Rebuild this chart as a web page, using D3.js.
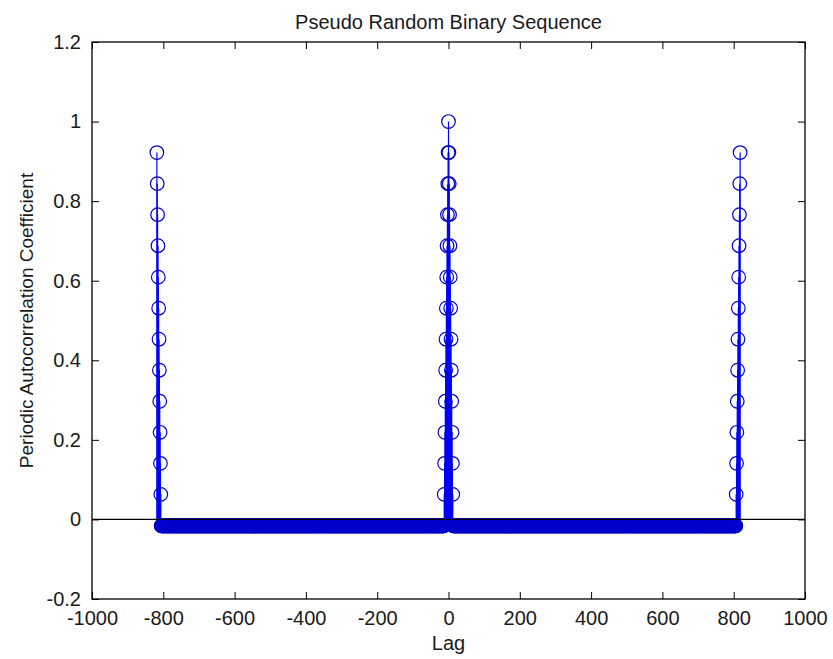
<!DOCTYPE html>
<html>
<head>
<meta charset="utf-8">
<script src="https://cdn.jsdelivr.net/npm/d3@7"></script>
<style>
  html, body { margin: 0; padding: 0; background: #fff; }
  svg text { font-family: "Liberation Sans", Arial, Helvetica, sans-serif; fill: #1a1a1a; }
</style>
</head>
<body>
<svg id="chart" width="833" height="659"></svg>
<script>
// ---- data ----
const title = "Pseudo Random Binary Sequence";
const xLabel = "Lag";
const yLabel = "Periodic Autocorrelation Coefficient";
const xTicks = [-1000, -800, -600, -400, -200, 0, 200, 400, 600, 800, 1000];
const yTicks = [-0.2, 0, 0.2, 0.4, 0.6, 0.8, 1, 1.2];
const xDomain = [-1000, 1000];
const yDomain = [-0.2, 1.2];
// stem heights by distance (in lags) from a correlation peak
const peakProfile = [1.000, 0.922, 0.844, 0.766, 0.688, 0.609, 0.531, 0.453, 0.375, 0.297, 0.219, 0.141, 0.063];
const peakLags = [-819, 0, 819];
const floorValue = -0.016;
const lagFirst = -818;
const lagLast = 818;

// build the stem series from the values above
const lags = d3.range(lagFirst, lagLast + 1);
const series = lags.map(l => {
  let v = floorValue;
  for (const p of peakLags) {
    const d = Math.abs(l - p);
    if (d < peakProfile.length) v = peakProfile[d];
  }
  return { lag: l, value: v };
});

// ---- layout ----
const svg = d3.select("#chart");
const m = { left: 92, right: 805, top: 42, bottom: 599 };
const x = d3.scaleLinear().domain(xDomain).range([m.left, m.right]);
const y = d3.scaleLinear().domain(yDomain).range([m.bottom, m.top]);
const fs = 20;
const tickLen = 7;
const hyphenFmt = d => String(+(+d).toFixed(1)).replace("\u2212", "-");

svg.append("rect").attr("x", 0).attr("y", 0).attr("width", 833).attr("height", 659).attr("fill", "#fff");

// axes (ticks inward on all four sides)
const axB = d3.axisBottom(x).tickValues(xTicks).tickFormat(hyphenFmt).tickSizeInner(-tickLen).tickSizeOuter(0).tickPadding(tickLen + 5);
const axT = d3.axisTop(x).tickValues(xTicks).tickFormat("").tickSizeInner(-tickLen).tickSizeOuter(0);
const axL = d3.axisLeft(y).tickValues(yTicks).tickFormat(hyphenFmt).tickSizeInner(-tickLen).tickSizeOuter(0).tickPadding(tickLen + 4);
const axR = d3.axisRight(y).tickValues(yTicks).tickFormat("").tickSizeInner(-tickLen).tickSizeOuter(0);

function styleAxis(g) {
  g.selectAll(".domain").remove();
  g.selectAll("line").attr("stroke", "#000").attr("stroke-width", 1);
  g.selectAll("text").attr("font-size", fs).attr("fill", "#1a1a1a").style("font-family", '"Liberation Sans", Arial, sans-serif');
}
svg.append("g").attr("transform", `translate(0,${m.bottom})`).call(axB).call(styleAxis);
svg.append("g").attr("transform", `translate(0,${m.top})`).call(axT).call(styleAxis);
svg.append("g").attr("transform", `translate(${m.left},0)`).call(axL).call(styleAxis);
svg.append("g").attr("transform", `translate(${m.right},0)`).call(axR).call(styleAxis);

// stems
const plot = svg.append("g");
plot.selectAll("line.stem").data(series).enter().append("line")
  .attr("class", "stem")
  .attr("x1", d => x(d.lag)).attr("x2", d => x(d.lag))
  .attr("y1", y(0)).attr("y2", d => y(d.value))
  .attr("stroke", "#0000ff").attr("stroke-width", 1.2);

// markers
plot.selectAll("circle.mk").data(series).enter().append("circle")
  .attr("class", "mk")
  .attr("cx", d => x(d.lag)).attr("cy", d => y(d.value))
  .attr("r", 6.8)
  .attr("fill", "none").attr("stroke", "#0000cc").attr("stroke-width", 1.2);

// baseline at zero
svg.append("line").attr("x1", m.left).attr("x2", m.right).attr("y1", y(0)).attr("y2", y(0))
  .attr("stroke", "#000").attr("stroke-width", 1.3);

// box
svg.append("rect").attr("x", m.left).attr("y", m.top).attr("width", m.right - m.left).attr("height", m.bottom - m.top)
  .attr("fill", "none").attr("stroke", "#000").attr("stroke-width", 1.3);

// titles
svg.append("text").attr("x", (m.left + m.right) / 2).attr("y", 29).attr("text-anchor", "middle").attr("font-size", fs).text(title);
svg.append("text").attr("x", (m.left + m.right) / 2).attr("y", 650).attr("text-anchor", "middle").attr("font-size", fs).text(xLabel);
svg.append("text").attr("transform", `translate(33,${(m.top + m.bottom) / 2}) rotate(-90)`).attr("text-anchor", "middle").attr("font-size", 19).text(yLabel);
</script>
</body>
</html>
